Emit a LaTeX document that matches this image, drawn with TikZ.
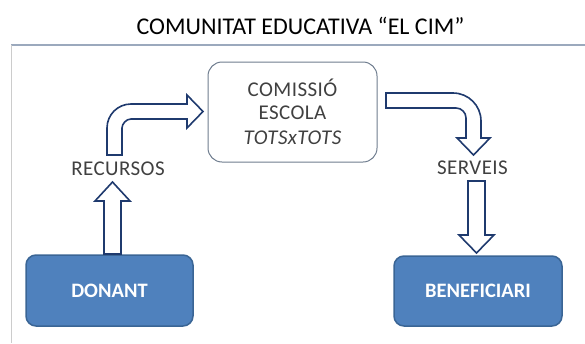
\documentclass[tikz,border=0pt]{standalone}
\usepackage{fontspec}
\setmainfont{Carlito}
\definecolor{boxblue}{HTML}{4F81BD}
\definecolor{boxedge}{HTML}{3A6595}
\definecolor{navy}{HTML}{1F3A6E}
\definecolor{framegray}{HTML}{9BA9BD}
\definecolor{leftgray}{HTML}{CCCCCC}
\definecolor{labelgray}{HTML}{404040}
\definecolor{midedge}{HTML}{6E7C8E}
\begin{document}
\begin{tikzpicture}[x=1pt,y=-1pt,
  bluebox/.style={draw=boxedge,line width=1.5pt,fill=boxblue,rounded corners=10pt},
  blocktext/.style={text=white,font=\fontsize{20.5}{22}\selectfont\bfseries},
  lbl/.style={text=labelgray,font=\fontsize{21}{23}\selectfont\addfontfeature{LetterSpace=2}},
  blockarrow/.style={draw=navy,line width=1.6pt,fill=white,line join=miter}]
\useasboundingbox (0,0) rectangle (585,343);
% frame
\draw[framegray,line width=2pt] (11,44.5) -- (585,44.5);
\draw[leftgray,line width=1.5pt] (11.5,45) -- (11.5,343);
% title
\node[font=\fontsize{24}{26}\selectfont,text=black] (title) at (300.5,25.5) {COMUNITAT EDUCATIVA “EL CIM”};
% centre box
\draw[midedge,line width=1pt,rounded corners=14pt] (208,62) rectangle (377,162);
\node[lbl,align=center] (l1) at (292.5,88) {COMISSIÓ};
\node[lbl,align=center] (l2) at (292.5,113) {ESCOLA};
\node[lbl,align=center] (l3) at (292.5,138) {\itshape TOTSxTOTS};
% blue boxes
\draw[bluebox] (26,255) rectangle (193,326);
\node[blocktext] (donant) at (109.5,291) {DONANT};
\draw[bluebox] (394,256) rectangle (562,326);
\node[blocktext] (benef) at (478,291) {BENEFICIARI};
% labels
\node[lbl] (rec) at (118,169) {RECURSOS};
\node[lbl] (serv) at (472.5,168) {SERVEIS};
% bent arrow left (up then right)
\draw[blockarrow] (107,155) -- (107,128)
  .. controls (107,114.75) and (117.75,104) .. (131,104)
  -- (187,104) -- (187,95) -- (203,111.5) -- (187,128) -- (187,119)
  -- (131,119) .. controls (126.03,119) and (122,123.97) .. (122,128)
  -- (122,155) -- cycle;
% bent arrow right (right then down)
\draw[blockarrow] (386,93) -- (453,93)
  .. controls (468.46,93) and (481,105.54) .. (481,121)
  -- (481,138) -- (490,138) -- (473.5,155) -- (457,138) -- (466,138)
  -- (466,118) .. controls (466,112.5) and (461.5,108) .. (456,108)
  -- (386,108) -- cycle;
% up arrow
\draw[blockarrow] (104,254) -- (104,201) -- (95,201) -- (112.5,182) -- (130,201) -- (121,201) -- (121,254) -- cycle;
% down arrow
\draw[blockarrow] (468,181) -- (485,181) -- (485,235) -- (494,235) -- (476.5,253) -- (459,235) -- (468,235) -- cycle;
\end{tikzpicture}
\end{document}
